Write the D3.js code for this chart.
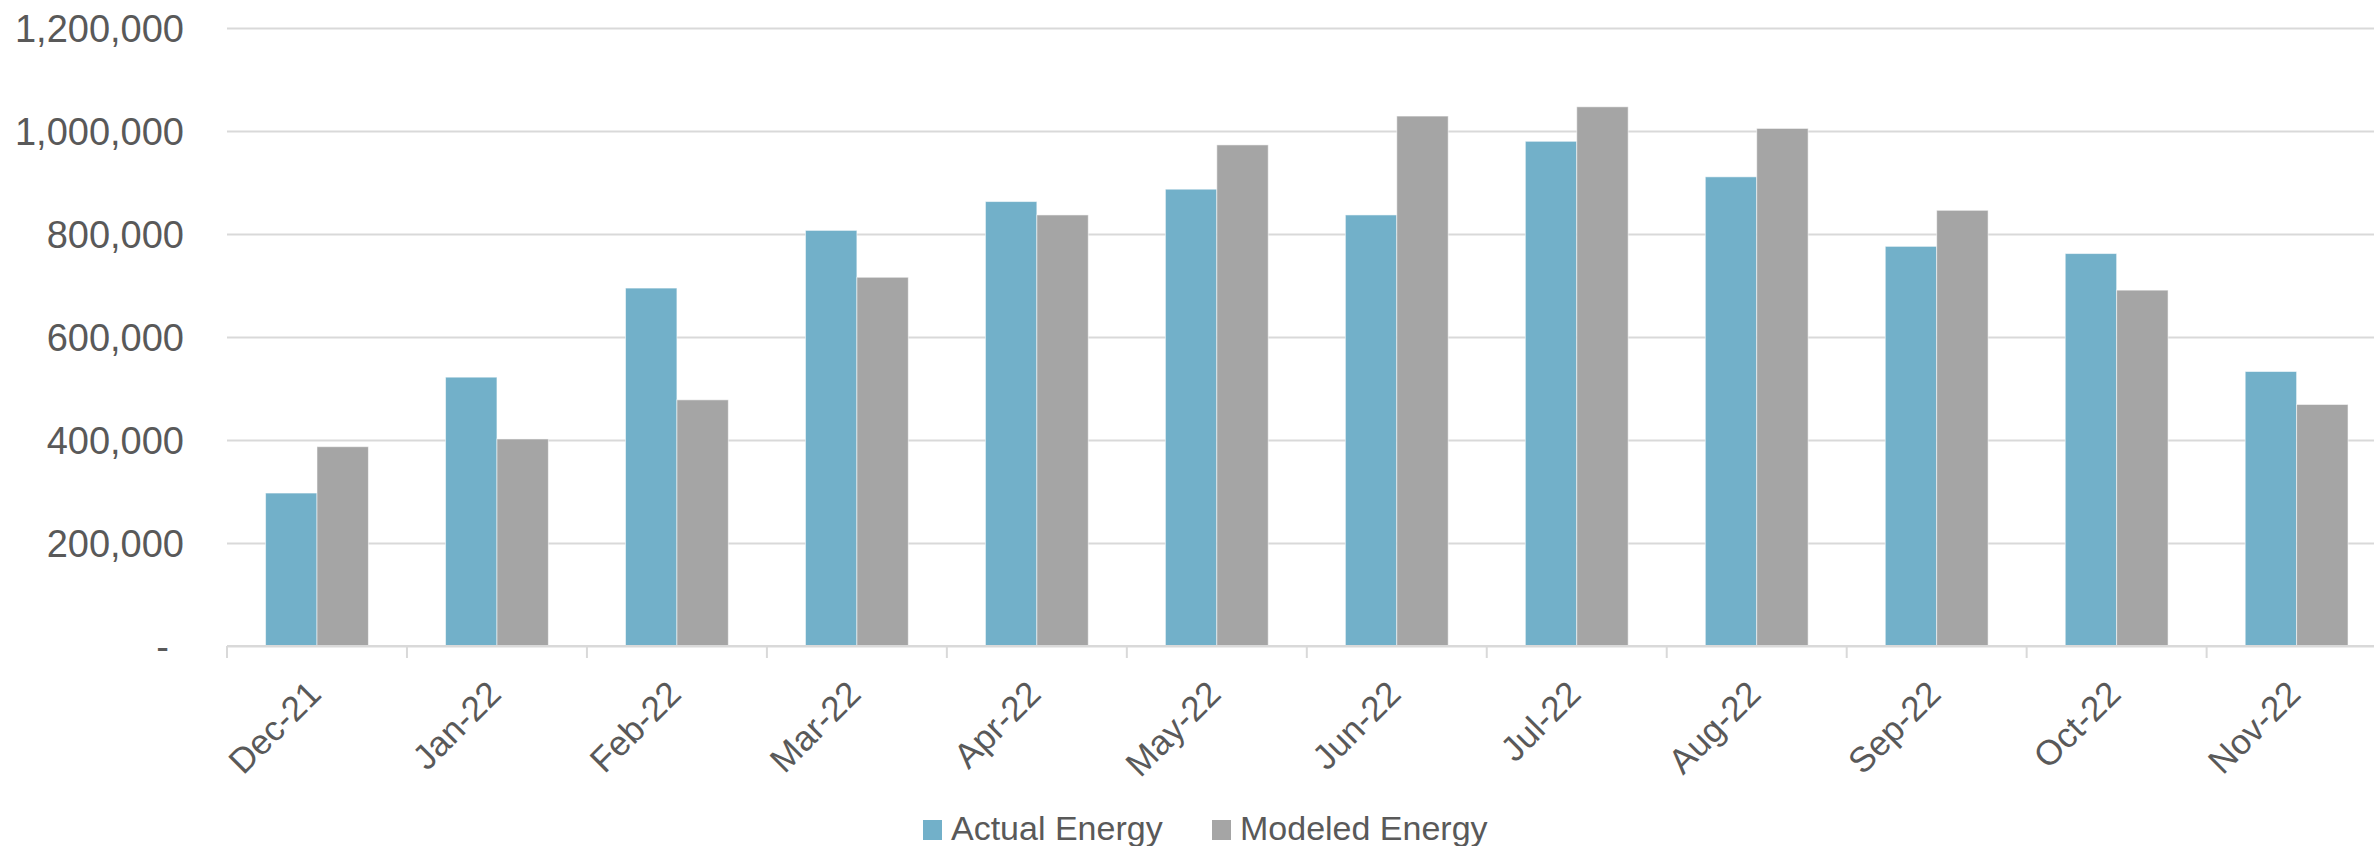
<!DOCTYPE html>
<html><head><meta charset="utf-8">
<script src="https://cdn.jsdelivr.net/npm/d3@7"></script>
<style>
body{margin:0;background:#fff;overflow:hidden}
text{font-family:"Liberation Sans",Arial,sans-serif;fill:#595959}
</style>
</head><body>
<svg id="chart" width="2374" height="846"></svg>
<script>
// ---- data ----
const months = ["Dec-21","Jan-22","Feb-22","Mar-22","Apr-22","May-22","Jun-22","Jul-22","Aug-22","Sep-22","Oct-22","Nov-22"];
const actualEnergy  = [297000, 522000, 695000, 807000, 863000, 887000, 837000, 980000, 911000, 776000, 762000, 533000];
const modeledEnergy = [387000, 402000, 478000, 716000, 837000, 973000, 1029000, 1047000, 1005000, 846000, 691000, 469000];
const seriesNames  = ["Actual Energy", "Modeled Energy"];
const seriesColors = ["#72B0C9", "#A5A5A5"];
const yTicks = [0, 200000, 400000, 600000, 800000, 1000000, 1200000];

// ---- layout ----
const svg = d3.select("#chart");
const plotLeft = 227, plotRight = 2386.6, plotTop = 28, plotBottom = 646;

const x = d3.scaleBand().domain(months).range([plotLeft, plotRight]).paddingInner(0).paddingOuter(0);
const x1 = d3.scaleBand().domain(seriesNames).range([0, x.bandwidth()]).paddingInner(0).paddingOuter(0.75);
const y = d3.scaleLinear().domain([0, 1200000]).range([plotBottom, plotTop]);

// y axis + gridlines
const yAxis = svg.append("g")
  .attr("transform", `translate(${plotLeft},0)`)
  .call(d3.axisLeft(y).tickValues(yTicks)
    .tickSizeInner(-(plotRight - plotLeft)).tickSizeOuter(0).tickPadding(43)
    .tickFormat(d => d === 0 ? "-" : d3.format(",")(d)));
yAxis.select(".domain").remove();
yAxis.selectAll(".tick line").attr("stroke", "#D9D9D9").attr("stroke-width", 2);
yAxis.selectAll(".tick text")
  .attr("font-size", 38).attr("fill", "#595959")
  .attr("dy", "0.35em")
  .attr("x", d => d === 0 ? -58 : -43);

// bars
const rows = months.map((m, i) => ({month: m, values: [actualEnergy[i], modeledEnergy[i]]}));
const groups = svg.append("g").selectAll("g").data(rows).join("g")
  .attr("transform", d => `translate(${x(d.month)},0)`);
groups.selectAll("rect")
  .data(d => d.values.map((v, j) => ({name: seriesNames[j], value: v, color: seriesColors[j]})))
  .join("rect")
  .attr("x", d => x1(d.name))
  .attr("width", x1.bandwidth())
  .attr("y", d => y(d.value))
  .attr("height", d => y(0) - y(d.value))
  .attr("fill", d => d.color)
  .attr("stroke", "#ffffff").attr("stroke-opacity", 0.55).attr("stroke-width", 1);

// x axis
const xAxis = svg.append("g")
  .attr("transform", `translate(0,${plotBottom})`)
  .call(d3.axisBottom(x).tickSize(0));
xAxis.select(".domain").remove();
xAxis.selectAll(".tick text")
  .attr("font-size", 35).attr("fill", "#595959")
  .attr("x", 0).attr("y", 0).attr("dy", 0)
  .attr("text-anchor", "end")
  .attr("transform", "translate(6,50) rotate(-45)");

// axis baseline + category boundary ticks
svg.append("line")
  .attr("x1", plotLeft).attr("x2", plotRight)
  .attr("y1", y(0)).attr("y2", y(0))
  .attr("stroke", "#D9D9D9").attr("stroke-width", 2);
const bounds = months.map(m => x(m)).concat([x.range()[1]]);
svg.append("g").selectAll("line").data(bounds).join("line")
  .attr("x1", d => d).attr("x2", d => d)
  .attr("y1", y(0)).attr("y2", y(0) + 12)
  .attr("stroke", "#D9D9D9").attr("stroke-width", 2);

// legend
const legendX = [923, 1212];
const leg = svg.append("g");
seriesNames.forEach((name, i) => {
  leg.append("rect")
    .attr("x", legendX[i]).attr("y", 820)
    .attr("width", 19).attr("height", 20)
    .attr("fill", seriesColors[i]);
  leg.append("text")
    .attr("x", legendX[i] + 28).attr("y", 840)
    .attr("font-size", 34).attr("fill", "#595959")
    .text(name);
});
</script>
</body></html>
